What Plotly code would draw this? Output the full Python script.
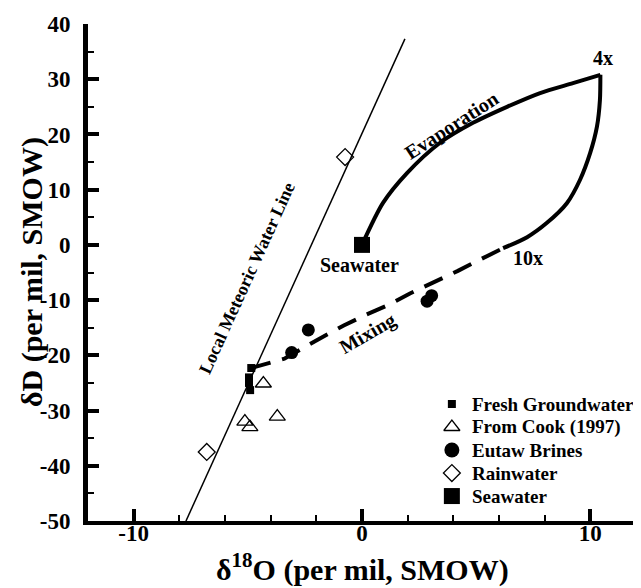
import plotly.graph_objects as go

# ---- data ----
lmwl_x = [-7.71, 1.88]
lmwl_y = [-50.0, 37.3]

# evaporation path: seawater -> 4x (upper branch), 4x -> 10x (lower branch)
evap_up_x = [0.0, 0.92, 1.97, 3.42, 4.86, 6.35, 7.80, 9.24, 10.44]
evap_up_y = [0.0, 7.6, 13.0, 18.5, 22.1, 25.0, 27.5, 29.3, 30.8]
evap_dn_x = [10.44, 10.42, 10.29, 9.99, 9.55, 8.98, 8.10, 7.23, 6.18]
evap_dn_y = [30.8, 26.2, 21.4, 16.6, 11.8, 7.6, 4.0, 1.4, -0.6]

mix_x = [-4.85, -3.4, -2.0, -0.8, 0.15, 1.15, 2.1, 3.2, 4.2, 5.2, 6.18]
mix_y = [-22.3, -20.6, -17.3, -14.6, -12.7, -10.9, -8.8, -6.7, -4.7, -2.6, -0.6]

fresh_x = [-4.85, -4.95, -4.95, -4.9]
fresh_y = [-22.3, -24.0, -25.0, -26.3]

cook_x = [-4.32, -5.13, -4.91, -3.71]
cook_y = [-25.1, -32.0, -33.0, -31.1]

eutaw_x = [-3.08, -2.35, 2.85, 3.05]
eutaw_y = [-19.5, -15.4, -10.2, -9.2]

rain_x = [-6.80, -0.74]
rain_y = [-37.5, 15.9]

sea_x = [0.0]
sea_y = [0.0]

x_ticks = [-10, 0, 10]
y_ticks = [-50, -40, -30, -20, -10, 0, 10, 20, 30, 40]

legend_labels = ["Fresh Groundwater", "From Cook (1997)", "Eutaw Brines", "Rainwater", "Seawater"]

FONT = "Liberation Serif"

styles = {
    "Fresh Groundwater": dict(symbol="square", color="black", size=8, lsize=8, lw=0),
    "From Cook (1997)": dict(symbol="triangle-up-open", color="black", size=14, lsize=14, lw=1.3),
    "Eutaw Brines": dict(symbol="circle", color="black", size=13, lsize=15, lw=0),
    "Rainwater": dict(symbol="diamond-open", color="black", size=13, lsize=13, lw=1.3),
    "Seawater": dict(symbol="square", color="black", size=16, lsize=16, lw=0),
}
series = {
    "Fresh Groundwater": (fresh_x, fresh_y),
    "From Cook (1997)": (cook_x, cook_y),
    "Eutaw Brines": (eutaw_x, eutaw_y),
    "Rainwater": (rain_x, rain_y),
    "Seawater": (sea_x, sea_y),
}

fig = go.Figure()

fig.add_trace(go.Scatter(x=lmwl_x, y=lmwl_y, mode="lines",
                         line=dict(color="black", width=1.5), showlegend=False))
for ex, ey in ((evap_up_x, evap_up_y), (evap_dn_x, evap_dn_y)):
    fig.add_trace(go.Scatter(x=ex, y=ey, mode="lines",
                             line=dict(color="black", width=4, shape="spline", smoothing=0.8),
                             showlegend=False))
fig.add_trace(go.Scatter(x=mix_x, y=mix_y, mode="lines",
                         line=dict(color="black", width=4, dash="20px,12px"),
                         showlegend=False))

for name in legend_labels:
    s = styles[name]
    xs, ys = series[name]
    fig.add_trace(go.Scatter(x=xs, y=ys, mode="markers", name=name, showlegend=False,
                             marker=dict(symbol=s["symbol"], size=s["size"], color=s["color"],
                                         line=dict(width=s["lw"], color=s["color"]))))

# ---- key (legend) drawn on a hidden overlay axis in plot-fraction units ----
key_sym_x = 0.664
key_text_x = 0.697
key_top = 0.2354
key_step = 0.0463
for i, name in enumerate(legend_labels):
    s = styles[name]
    ky = key_top - i * key_step
    fig.add_trace(go.Scatter(x=[key_sym_x], y=[ky], xaxis="x2", yaxis="y2", mode="markers",
                             showlegend=False, hoverinfo="skip",
                             marker=dict(symbol=s["symbol"], size=s["lsize"], color=s["color"],
                                         line=dict(width=s["lw"], color=s["color"]))))

ann_font = dict(family=FONT, size=20, color="black", weight="bold")
annotations = [
    dict(x=-5.04, y=-6.0, text="Local Meteoric Water Line", textangle=-65.6,
         font=dict(family=FONT, size=18, color="black", weight="bold")),
    dict(x=3.94, y=21.7, text="Evaporation", textangle=-33, font=ann_font),
    dict(x=0.26, y=-16.0, text="Mixing", textangle=-30, font=ann_font),
    dict(x=-0.09, y=-3.6, text="Seawater", font=ann_font),
    dict(x=10.56, y=33.8, text="4x", font=ann_font),
    dict(x=7.27, y=-2.4, text="10x", font=ann_font),
]
for a in annotations:
    a.update(xref="x", yref="y", showarrow=False, xanchor="center", yanchor="middle")

for i, name in enumerate(legend_labels):
    annotations.append(dict(xref="paper", yref="paper", x=key_text_x, y=key_top - i * key_step,
                            text=name, showarrow=False, xanchor="left", yanchor="middle",
                            font=dict(family=FONT, size=19, color="black", weight="bold")))

annotations += [
    dict(xref="paper", yref="paper", x=0.5, y=-0.0926, showarrow=False,
         xanchor="center", yanchor="middle",
         text="δ<sup>18</sup>O (per mil, SMOW)",
         font=dict(family=FONT, size=30, color="black", weight="bold")),
    dict(xref="paper", yref="paper", x=-0.103, y=0.50, showarrow=False,
         xanchor="center", yanchor="middle", textangle=-90,
         text="δD (per mil, SMOW)",
         font=dict(family=FONT, size=30, color="black", weight="bold")),
]

axis_common = dict(showgrid=False, zeroline=False, showline=True, linecolor="black",
                   ticks="inside", tickcolor="black", mirror=False,
                   tickfont=dict(family=FONT, size=23, color="black", weight="bold"))

# the page adds an 8px body margin, so the figure is sized/offset to compensate
fig.update_layout(
    width=633, height=580,
    margin=dict(l=80, r=5, t=16, b=67, pad=0),
    plot_bgcolor="white", paper_bgcolor="white",
    xaxis=dict(range=[-12, 12], tickvals=x_ticks, ticktext=[str(v) for v in x_ticks],
               linewidth=4, ticklen=12, tickwidth=4, ticklabelstandoff=-12,
               minor=dict(dtick=2, tick0=0, ticks="inside", ticklen=6, tickwidth=2, tickcolor="black"),
               **axis_common),
    yaxis=dict(range=[-50, 40], tickvals=y_ticks, ticktext=[str(v) for v in y_ticks],
               linewidth=5, ticklen=11, tickwidth=4, ticklabelstandoff=8,
               minor=dict(dtick=5, tick0=0, ticks="inside", ticklen=6, tickwidth=2, tickcolor="black"),
               **axis_common),
    xaxis2=dict(range=[0, 1], overlaying="x", visible=False, fixedrange=True),
    yaxis2=dict(range=[0, 1], overlaying="y", visible=False, fixedrange=True),
    showlegend=False,
    annotations=annotations,
)

fig.write_html("out.html")
